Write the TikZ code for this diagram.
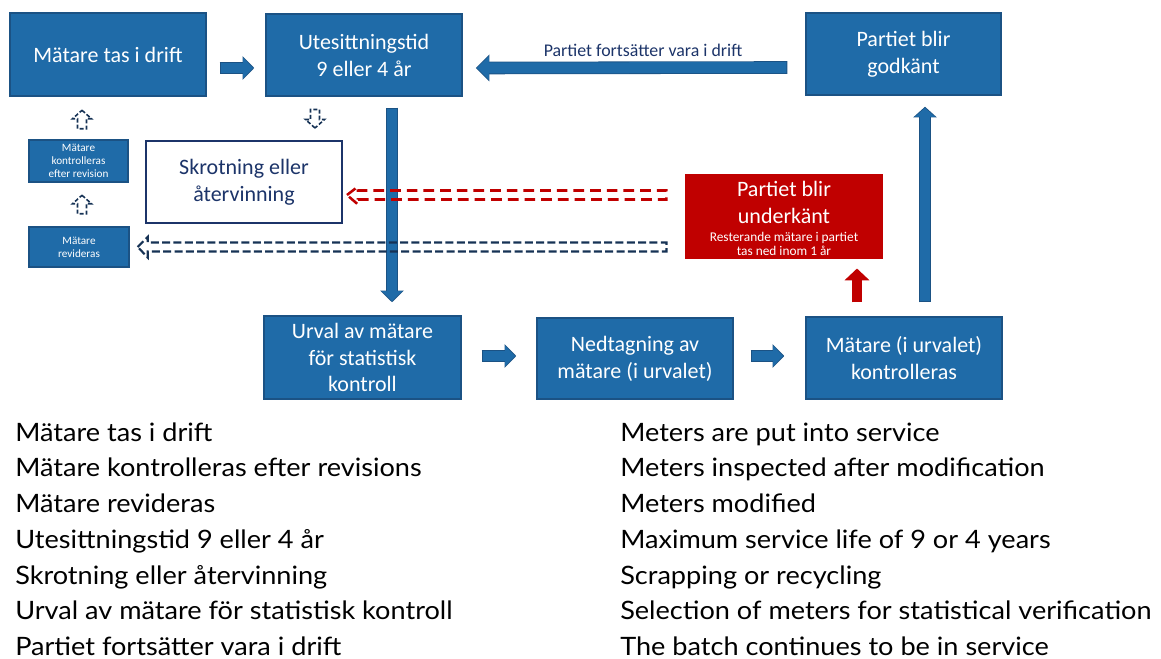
\documentclass[tikz,border=0pt]{standalone}
\usepackage{fontspec}
\setmainfont{Lato}
\newfontfamily\bottomfont[FakeStretch=1.07]{Lato}
\newfontfamily\boxfont{Carlito}
\usetikzlibrary{arrows.meta,calc}
\definecolor{bfill}{RGB}{31,107,168}
\definecolor{bborder}{RGB}{27,82,132}
\definecolor{navy}{RGB}{28,52,105}
\definecolor{dred}{RGB}{192,0,0}
\definecolor{dashnavy}{RGB}{22,50,85}
% block arrow: fill, border, start, end, shaft(px), head width(px), head length(px)
\newcommand\blkarrow[7]{%
  \pgfmathsetlengthmacro\bswo{#5*0.75pt+1.2pt}%
  \pgfmathsetlengthmacro\bsw{#5*0.75pt}%
  \pgfmathsetlengthmacro\bhwo{#6*0.75pt+2.4pt}%
  \pgfmathsetlengthmacro\bhw{#6*0.75pt}%
  \pgfmathsetlengthmacro\bhlo{#7*0.75pt+1.3pt}%
  \pgfmathsetlengthmacro\bhl{#7*0.75pt}%
  \draw[line width=\bswo,color=#2,-{Triangle[length=\bhlo,width=\bhwo]}] #3 -- #4;
  \draw[line width=\bsw,color=#1,shorten <=0.6pt,shorten >=0.9pt,-{Triangle[length=\bhl,width=\bhw]}] #3 -- #4;
}
\tikzset{
  bluebox/.style={draw=bborder,fill=bfill,line width=1.1pt,text=white,
    font=\boxfont\fontsize{16.5}{20.2}\selectfont,align=center,inner sep=0pt},
  smallbox/.style={bluebox,font=\boxfont\fontsize{8.4}{9.75}\selectfont},
  hollowarr/.style={draw=dashnavy,line width=1.2pt,dash pattern=on 3pt off 1.6pt,line join=miter},
  hollowup/.pic={\draw[hollowarr] (0,-10) -- (9.5,-1.5) -- (4.5,-1.5) -- (4.5,8.5) -- (-4.5,8.5) -- (-4.5,-1.5) -- (-9.5,-1.5) -- cycle;},
  bottomtext/.style={anchor=base west,inner sep=0pt,font=\bottomfont\fontsize{19}{21}\selectfont}
}
\begin{document}
\begin{tikzpicture}[x=0.75pt,y=-0.75pt]
\useasboundingbox (0,0) rectangle (1161,659);
% boxes
\node[bluebox,minimum width=147pt,minimum height=62.25pt] (A) at (108,54.5) {Mätare tas i drift};
\node[bluebox,minimum width=147pt,minimum height=61.5pt] (B) at (364,55) {Utesittningstid\\9 eller 4 år};
\node[bluebox,minimum width=146.25pt,minimum height=61.5pt] (C) at (903.5,54) {Partiet blir\\godkänt};
\node[smallbox,minimum width=74.25pt,minimum height=31.5pt] (K) at (78.5,161) {Mätare\\kontrolleras\\efter revision};
\node[smallbox,minimum width=75pt,minimum height=30pt] (R) at (79,247) {Mätare\\revideras};
\node[draw=navy,fill=white,line width=1.5pt,text=navy,font=\boxfont\fontsize{16.5}{20.2}\selectfont,align=center,inner sep=0pt,
      minimum width=147pt,minimum height=61.5pt] (S) at (244,182) {Skrotning eller\\återvinning};
\node[draw=dred,fill=dred,line width=0.8pt,minimum width=147pt,minimum height=62.25pt,inner sep=0pt] (F) at (784,216.5) {};
\node[text=white,font=\boxfont\fontsize{16.5}{20.2}\selectfont,align=center,inner sep=0pt,anchor=north] (Ft) at ($(F.north)+(0,6.5)$) {Partiet blir\\underkänt};
\node[text=white,font=\boxfont\fontsize{10}{10.8}\selectfont,align=center,inner sep=0pt,anchor=north] (Fs) at ($(F.north)+(0,57.5)$) {Resterande mätare i partiet\\tas ned inom 1 år};
\node[bluebox,minimum width=147.75pt,minimum height=62.25pt] (U) at (362.5,357.5) {Urval av mätare\\för statistisk\\kontroll};
\node[bluebox,minimum width=147pt,minimum height=60.75pt] (N) at (635,358.5) {Nedtagning av\\mätare (i urvalet)};
\node[bluebox,minimum width=147pt,minimum height=61.5pt] (M) at (904,358) {Mätare (i urvalet)\\kontrolleras};
% solid block arrows
\blkarrow{bfill}{bborder}{($(A.east)+(13,13.5)$)}{($(B.west)+(-11,13)$)}{10}{20}{10}
\blkarrow{bfill}{bborder}{($(C.west)+(-18,13.5)$)}{($(B.east)+(13,13)$)}{11}{23}{12}
\blkarrow{bfill}{bborder}{($(B.south)+(28,11)$)}{($(U.north)+(29.5,-13)$)}{10}{20}{10}
\blkarrow{bfill}{bborder}{($(U.east)+(20,-1.5)$)}{($(N.west)+(-20,-2.5)$)}{10}{20}{10}
\blkarrow{bfill}{bborder}{($(N.east)+(17,-2.5)$)}{($(M.west)+(-21,-2)$)}{10}{20}{10}
\blkarrow{bfill}{bborder}{($(M.north)+(21,-14)$)}{($(C.south)+(21.5,11)$)}{10}{20}{9}
\blkarrow{dred}{dred}{($(M.north)+(-47,-14)$)}{($(F.south)+(73,10)$)}{8}{21}{10}
\node[text=navy,font=\boxfont\fontsize{13.4}{15}\selectfont,inner sep=0pt] (L) at (643,50) {Partiet fortsätter vara i drift};
% dashed hollow long arrows
\coordinate (rt) at ($(S.east)+(4,13)$);
\coordinate (re) at ($(F.west)+(-19,-21.5)$);
\draw[draw=dred,line width=1.9pt,dash pattern=on 8pt off 4.5pt,line join=miter]
  (rt) -- ($(rt)+(11,-8.5)$) -- ($(rt)+(11,-4.5)$) -- ($(re)+(0,-4.5)$) -- ($(re)+(0,4.5)$)
  -- ($(rt)+(11,4.5)$) -- ($(rt)+(11,9.5)$) -- cycle;
\coordinate (nt) at ($(R.east)+(8,0)$);
\coordinate (ne) at ($(F.west)+(-19,30.5)$);
\draw[draw=dashnavy,line width=1.6pt,dash pattern=on 6pt off 2.5pt,line join=miter]
  (nt) -- ($(nt)+(10,-10)$) -- ($(nt)+(10,-4.5)$) -- ($(ne)+(0,-4.5)$) -- ($(ne)+(0,4.5)$)
  -- ($(nt)+(10,4.5)$) -- ($(nt)+(10,10.5)$) -- cycle;
% small hollow arrows
\pic at ($(K.north)+(3.5,-19)$) {hollowup};
\pic at ($(R.north)+(3,-21)$) {hollowup};
\pic[rotate=180] at ($(S.north)+(71,-22)$) {hollowup};
% bottom text
\foreach \i/\l/\r in {0/{Mätare tas i drift}/{Meters are put into service},
  1/{Mätare kontrolleras efter revisions}/{Meters inspected after modification},
  2/{Mätare revideras}/{Meters modified},
  3/{Utesittningstid 9 eller 4 år}/{Maximum service life of 9 or 4 years},
  4/{Skrotning eller återvinning}/{Scrapping or recycling},
  5/{Urval av mätare för statistisk kontroll}/{Selection of meters for statistical verification},
  6/{Partiet fortsätter vara i drift}/{The batch continues to be in service}}{
  \node[bottomtext] (l\i) at (15,441+\i*35.75) {\l};
  \node[bottomtext] (r\i) at (620,441+\i*35.75) {\r};
}
\end{tikzpicture}
\end{document}
